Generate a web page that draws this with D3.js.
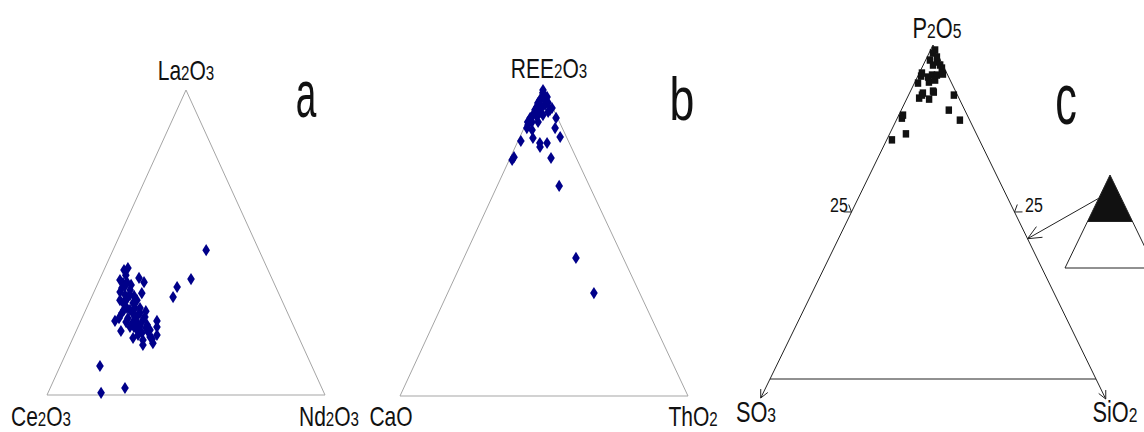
<!DOCTYPE html>
<html>
<head>
<meta charset="utf-8">
<script src="https://cdn.jsdelivr.net/npm/d3@7"></script>
<style>
  body { margin: 0; background: #fff; }
  svg { display: block; }
  text { font-family: "Liberation Sans", Arial, sans-serif; fill: #111; }
</style>
</head>
<body>
<svg id="chart" width="1144" height="432"></svg>
<script>
// ---- data (wt.%) ----
// a: La2O3 on top, Nd2O3 on the right, Ce2O3 = the rest
var aLa = [47.5, 38.0, 35.4, 32.1, 9.5, 0.7, 2.3, 24.3, 21.0, 16.4, 24.3, 22.3, 19.7, 18.7, 18.4,
           41.6, 39.3, 38.4, 36.7, 33.8, 34.4, 33.4, 30.2, 30.2, 26.9, 27.2, 26.2, 23.9, 24.6, 23.0,
           21.3, 20.7, 19.0, 20.3, 37.0, 32.1, 31.1, 28.5, 28.5, 25.6, 22.3, 25.6, 22.6, 41.0, 36.1,
           32.8, 28.5, 25.2, 18.0, 27.5, 31.1, 23.9, 37.0,
           37.7, 35.1, 31.1, 32.8, 32.5, 27.9, 27.9, 22.3, 19.7, 22.0, 21.3, 17.0, 26.9, 23.9, 25.2, 35.7];
var aNd = [33.5, 32.8, 29.1, 29.3, 14.3, 19.1, 26.9, 12.3, 16.1, 26.3, 27.4, 28.4, 29.7, 21.6, 28.6,
           8.3, 8.7, 13.9, 9.0, 9.4, 12.7, 17.4, 12.3, 15.9, 13.5, 17.0, 19.6, 19.0, 22.2, 24.5,
           21.7, 26.0, 27.6, 24.0, 10.3, 13.1, 16.8, 14.5, 19.2, 22.4, 18.7, 18.8, 22.2, 7.2, 12.2,
           11.7, 17.4, 16.5, 25.5, 21.8, 10.7, 20.4, 16.4,
           7.4, 9.4, 12.8, 13.5, 15.1, 13.7, 15.9, 20.1, 22.9, 24.6, 26.4, 29.6, 20.0, 16.5, 13.3, 10.2];

// b: REE2O3 on top, ThO2 on the right, CaO = the rest
var bREE = [99.0, 98.1, 96.8, 96.8, 94.8, 94.2, 93.2, 92.6, 91.9, 90.9, 90.9, 90.0, 87.7, 86.7, 86.1,
            83.5, 82.5, 81.9, 80.6, 81.9, 90.0, 86.7, 83.8, 77.0, 77.3, 76.4, 68.0, 44.7, 33.3, 95.1,
            93.5, 95.0, 93.5, 92.6, 90.3, 88.7, 95.8, 95.8, 91.6, 91.9, 88.7, 88.7];
var bTh = [0.5, 0.9, 1.3, 3.0, 0.8, 3.6, 6.5, 0.9, 3.0, 1.0, 4.5, 0.5, 0.9, 1.0, 3.1,
           4.7, 1.0, 7.9, 8.6, 10.4, 9.5, 10.8, 14.0, 14.2, 1.2, 1.0, 21.5, 38.9, 50.8, 3.8,
           1.1, 4.2, 2.9, 6.1, 2.7, 0.3, 1.0, 2.8, 1.7, 5.8, 1.8, 3.9];

// c: P2O5 on top, SiO2 on the right, SO3 = the rest
var cP = [71.6, 73.4, 78.1, 79.0, 84.1, 85.0, 85.6, 83.8, 86.2, 88.6, 90.7, 88.9, 90.4, 91.0, 91.0, 91.9,
          91.3, 95.5, 97.6, 98.5, 94.9, 94.0, 93.1, 85.0, 80.5, 77.5, 94.0, 96.4, 85.9, 91.6, 89.5];
var cSi = [1.6, 5.0, 1.4, 1.3, 3.7, 4.1, 4.1, 6.9, 6.9, 1.1, 1.0, 4.3, 3.3, 4.2, 5.7, 6.8,
           7.4, 1.3, 1.2, 1.4, 3.8, 5.2, 6.2, 13.9, 14.6, 19.5, 3.0, 3.0, 7.3, 0.8, 5.9];

var aCorners = ["La2O3", "Ce2O3", "Nd2O3"];
var bCorners = ["REE2O3", "CaO", "ThO2"];
var cCorners = ["P2O5", "SO3", "SiO2"];
var panelNames = ["a", "b", "c"];
var cTickLabel = "25";
var cTickLevel = 50;    // where the "25" marks sit on the sides
var insetCut = 50;      // black part of the inset triangle

var svg = d3.select("#chart");

// maps (top %, right %) into the pixel triangle L-R-A
function ternary(L, R, A) {
  var x = d3.scaleLinear().domain([0, 100]).range([L[0], R[0]]);
  var y = d3.scaleLinear().domain([0, 100]).range([L[1], A[1]]);
  var k = (A[0] - L[0]) / (R[0] - L[0]);
  return function(t, r) { return [x(r + t * k), y(t)]; };
}

// chemical formula with small digits
function formula(g, name, x, y, size, anchor) {
  var t = g.append("text")
    .attr("transform", "translate(" + x + "," + y + ") scale(0.75,1)")
    .attr("text-anchor", anchor || "middle")
    .attr("font-size", size);
  name.split(/(\d)/).filter(function(s) { return s.length; }).forEach(function(s) {
    t.append("tspan").attr("font-size", /\d/.test(s) ? size * 0.72 : size).text(s);
  });
}

function arrowHead(g, tip, from, len, ang) {
  var a = Math.atan2(from[1] - tip[1], from[0] - tip[0]);
  [ang, -ang].forEach(function(d) {
    g.append("line")
      .attr("x1", tip[0]).attr("y1", tip[1])
      .attr("x2", tip[0] + len * Math.cos(a + d))
      .attr("y2", tip[1] + len * Math.sin(a + d));
  });
}

var line = d3.line();
var diamond = d3.symbol().type(d3.symbolDiamond).size(42);
var square = d3.symbol().type(d3.symbolSquare).size(46);

// ---- panel a ----
var pa = ternary([47, 395], [325, 395], [186, 90]);
var ga = svg.append("g");
ga.append("path")
  .attr("d", line([pa(100, 0), pa(0, 0), pa(0, 100)]) + "Z")
  .attr("fill", "none").attr("stroke", "#a5a5a5").attr("stroke-width", 1);
ga.selectAll(".pt").data(aLa).enter().append("path")
  .attr("class", "pt")
  .attr("d", diamond)
  .attr("transform", function(d, i) { return "translate(" + pa(d, aNd[i]) + ") scale(1.1,1)"; })
  .attr("fill", "#00008a");
formula(ga, aCorners[0], 186, 80, 28);
formula(ga, aCorners[1], 41, 426, 28);
formula(ga, aCorners[2], 329, 426, 28);
ga.append("text").attr("transform", "translate(306,117) scale(0.56,1)")
  .attr("text-anchor", "middle").attr("font-size", 66).text(panelNames[0]);

// ---- panel b ----
var pb = ternary([400, 396], [688, 396], [543, 87]);
var gb = svg.append("g");
gb.append("path")
  .attr("d", line([pb(100, 0), pb(0, 0), pb(0, 100)]) + "Z")
  .attr("fill", "none").attr("stroke", "#a5a5a5").attr("stroke-width", 1);
gb.selectAll(".pt").data(bREE).enter().append("path")
  .attr("class", "pt")
  .attr("d", diamond)
  .attr("transform", function(d, i) { return "translate(" + pb(d, bTh[i]) + ") scale(1.1,1)"; })
  .attr("fill", "#00008a");
formula(gb, bCorners[0], 549, 78, 28);
formula(gb, bCorners[1], 391, 426, 28);
formula(gb, bCorners[2], 693, 426, 28);
gb.append("text").attr("transform", "translate(682,120) scale(0.72,1)")
  .attr("text-anchor", "middle").attr("font-size", 62).text(panelNames[1]);

// ---- panel c ----
var pc = ternary([770, 379], [1096, 379], [933, 45]);
var gc = svg.append("g").attr("stroke", "#222").attr("stroke-width", 1).attr("fill", "none");
var tipL = pc(-5.7, 0), tipR = pc(-6, 106);
gc.append("path").attr("d", line([tipL, pc(100, 0), tipR]));
gc.append("path").attr("d", line([pc(0, 0), pc(0, 100)]));
arrowHead(gc, tipL, pc(100, 0), 9, 0.45);
arrowHead(gc, tipR, pc(100, 0), 9, 0.45);

// "25" marks
var mL = pc(cTickLevel, 0), mR = pc(cTickLevel, 100 - cTickLevel);
arrowHead(gc, mL, [mL[0] - 10, mL[1] - 7], 8, 0.6);
arrowHead(gc, mR, [mR[0] + 10, mR[1] - 7], 8, 0.6);
var gct = svg.append("g");
gct.append("text").attr("transform", "translate(839,212) scale(0.8,1)")
  .attr("text-anchor", "middle").attr("font-size", 20).text(cTickLabel);
gct.append("text").attr("transform", "translate(1034,212) scale(0.8,1)")
  .attr("text-anchor", "middle").attr("font-size", 20).text(cTickLabel);

svg.append("g").selectAll(".pt").data(cP).enter().append("path")
  .attr("class", "pt")
  .attr("d", square)
  .attr("transform", function(d, i) { return "translate(" + pc(d, cSi[i]) + ") scale(0.95,1.1)"; })
  .attr("fill", "#111");

formula(svg, cCorners[0], 937, 38, 29);
formula(svg, cCorners[1], 756, 422, 29);
formula(svg, cCorners[2], 1115, 422, 29);
svg.append("text").attr("transform", "translate(1066,124) scale(0.6,1)")
  .attr("text-anchor", "middle").attr("font-size", 72).text(panelNames[2]);

// inset: which part of the full triangle is enlarged
var pi = ternary([1065, 268], [1155, 268], [1110, 175]);
svg.append("path")
  .attr("d", line([pi(100, 0), pi(insetCut, 0), pi(insetCut, 100 - insetCut)]) + "Z")
  .attr("fill", "#111");
var gi = svg.append("g").attr("stroke", "#222").attr("stroke-width", 1).attr("fill", "none");
gi.append("path").attr("d", line([pi(100, 0), pi(0, 0), pi(0, 100)]) + "Z");
gi.append("path").attr("d", line([pi(insetCut, 0), pi(insetCut, 100 - insetCut)]));
var from = pi(75, 0), to = pc(42, 58);
gi.append("path").attr("d", line([from, to]));
arrowHead(gi, to, from, 15, 0.42);
</script>
</body>
</html>
